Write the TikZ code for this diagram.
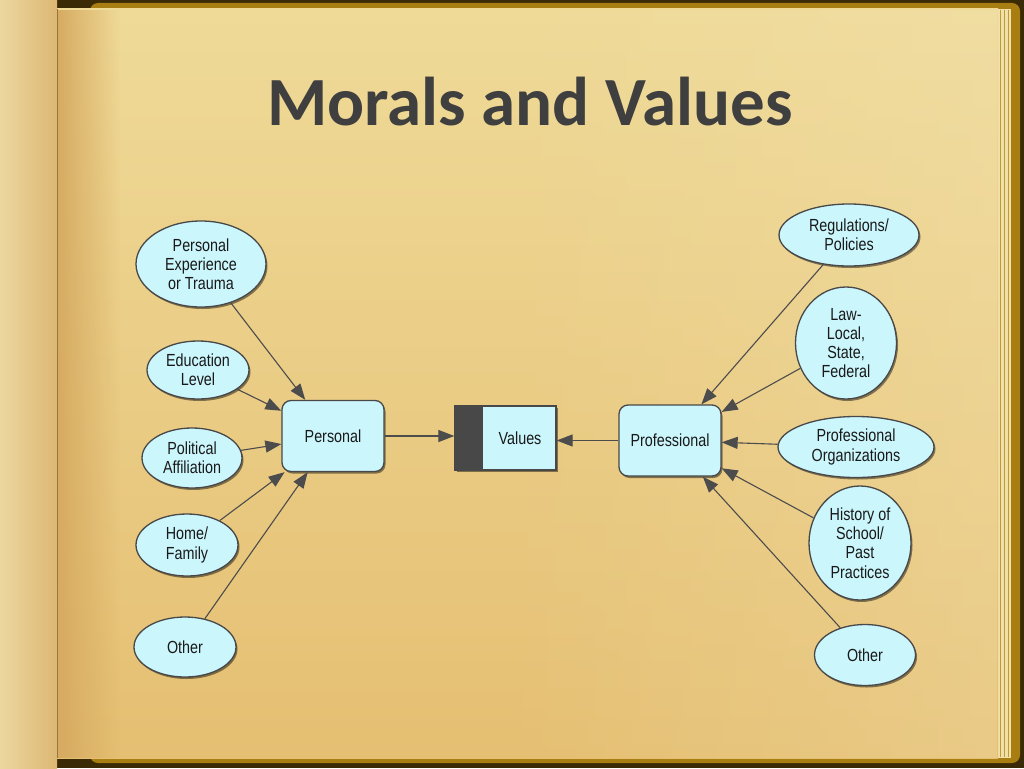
\documentclass[tikz,border=0pt]{standalone}
\usepackage{fontspec}
\setmainfont{Liberation Sans}[FakeStretch=0.82]
\newfontfamily\titlefont{Carlito}
\usetikzlibrary{shapes.geometric,shadows,arrows.meta,fadings}
\definecolor{pagetop}{HTML}{EFDA98}
\definecolor{pagebot}{HTML}{E5BF72}
\definecolor{spine}{HTML}{D6AA60}
\definecolor{leftpg}{HTML}{ECD7A0}
\definecolor{gold}{HTML}{A87E12}
\definecolor{darkfr}{HTML}{3A2A06}
\definecolor{nodefill}{HTML}{CBF6FC}
\definecolor{nodeline}{HTML}{484848}
\definecolor{arrcol}{HTML}{4C4C4C}
\definecolor{titlecol}{HTML}{3F3F3F}
\tikzset{
  shad/.style={drop shadow={shadow xshift=1.5pt,shadow yshift=-2pt,opacity=0.45,fill=black}},
  ell/.style={ellipse,draw=nodeline,line width=1.3pt,fill=nodefill,inner sep=0pt,align=center,shad,
    font=\fontsize{17.5}{19.2}\selectfont,text=black!90},
  rbox/.style={rectangle,rounded corners=9pt,draw=nodeline,line width=1.3pt,fill=nodefill,inner sep=0pt,
    minimum width=102pt,minimum height=71pt,align=center,shad,font=\fontsize{17.5}{19.2}\selectfont,text=black!90},
  sbox/.style={rectangle,draw=nodeline,line width=1.3pt,fill=nodefill,inner sep=0pt,
    minimum width=101pt,minimum height=64pt,align=center,shad,font=\fontsize{17.5}{19.2}\selectfont,text=black!90},
  arr/.style={draw=arrcol,line width=1.1pt,-{Triangle[length=16pt,width=12pt]}}
}
\begin{document}
\begin{tikzpicture}[x=1pt,y=-1pt]
\useasboundingbox (0,0) rectangle (1024,768);
% frame
\fill[darkfr] (0,0) rectangle (1024,768);
\fill[gold,rounded corners=8pt] (90,3) rectangle (1020,763);
% page stack on right
\fill[pagetop!85!white] (990,9) rectangle (1011,758);
\foreach \xx in {1000,1004,1008} \draw[gold!70!pagetop,line width=0.8pt] (\xx,10) -- (\xx,757);
% main page
\shade[top color=pagetop,bottom color=pagebot] (56,9) rectangle (998,758);
\fill[pagetop!70!white,opacity=0.3,path fading=west] (500,9) rectangle (998,758);
\fill[spine,path fading=east] (56,9) rectangle (120,758);
% left page
\shade[left color=leftpg,right color=spine!70!leftpg] (0,0) rectangle (57,768);
\draw[spine!70!black,line width=0.8pt] (57,9) -- (57,758);
% title
\node[font=\titlefont\bfseries\fontsize{69}{72}\selectfont,text=titlecol,anchor=base] (title) at (530,125) {Morals and Values};
% left nodes
\node[ell,minimum width=130pt,minimum height=86pt] (pe) at (201,264) {Personal\\Experience\\or Trauma};
\node[ell,minimum width=102pt,minimum height=58pt] (edu) at (198,370) {Education\\Level};
\node[ell,minimum width=100pt,minimum height=60pt] (pol) at (192,458) {Political\\Affiliation};
\node[ell,minimum width=102pt,minimum height=62pt] (home) at (187,545) {Home/\\Family};
\node[ell,minimum width=102pt,minimum height=60pt] (oth1) at (185,647) {Other};
% center
\node[rbox] (personal) at (333,436) {Personal};
\node[sbox] (values) at (505.5,438) {\hspace*{29pt}Values};
\fill[nodeline] ([shift={(0.65pt,-0.65pt)}]values.north west) rectangle ([shift={(29pt,0.65pt)}]values.south west);
\node[rbox] (prof) at (670,440.5) {Professional};
% right nodes
\node[ell,minimum width=140pt,minimum height=62pt] (reg) at (849,235) {Regulations/\\Policies};
\node[ell,minimum width=101pt,minimum height=112pt] (law) at (846,343) {Law-\\Local,\\State,\\Federal};
\node[ell,minimum width=156pt,minimum height=61pt] (porg) at (856,447) {Professional\\Organizations};
\node[ell,minimum width=102pt,minimum height=114pt] (hist) at (860,543) {History of\\School/\\Past\\Practices};
\node[ell,minimum width=101pt,minimum height=61pt] (oth2) at (865,655) {Other};
% connectors
\draw[arr] (pe) -- (personal);
\draw[arr] (edu) -- (personal);
\draw[arr] (pol) -- (personal);
\draw[arr] (home) -- (personal);
\draw[arr] (oth1) -- (personal);
\draw[arr] (personal) -- (personal -| values.west);
\draw[arr] (prof) -- (prof -| values.east);
\draw[arr] (reg) -- (prof);
\draw[arr] (law) -- (prof);
\draw[arr] (porg) -- (prof);
\draw[arr] (hist) -- (prof);
\draw[arr] (oth2) -- (prof);
\end{tikzpicture}
\end{document}
